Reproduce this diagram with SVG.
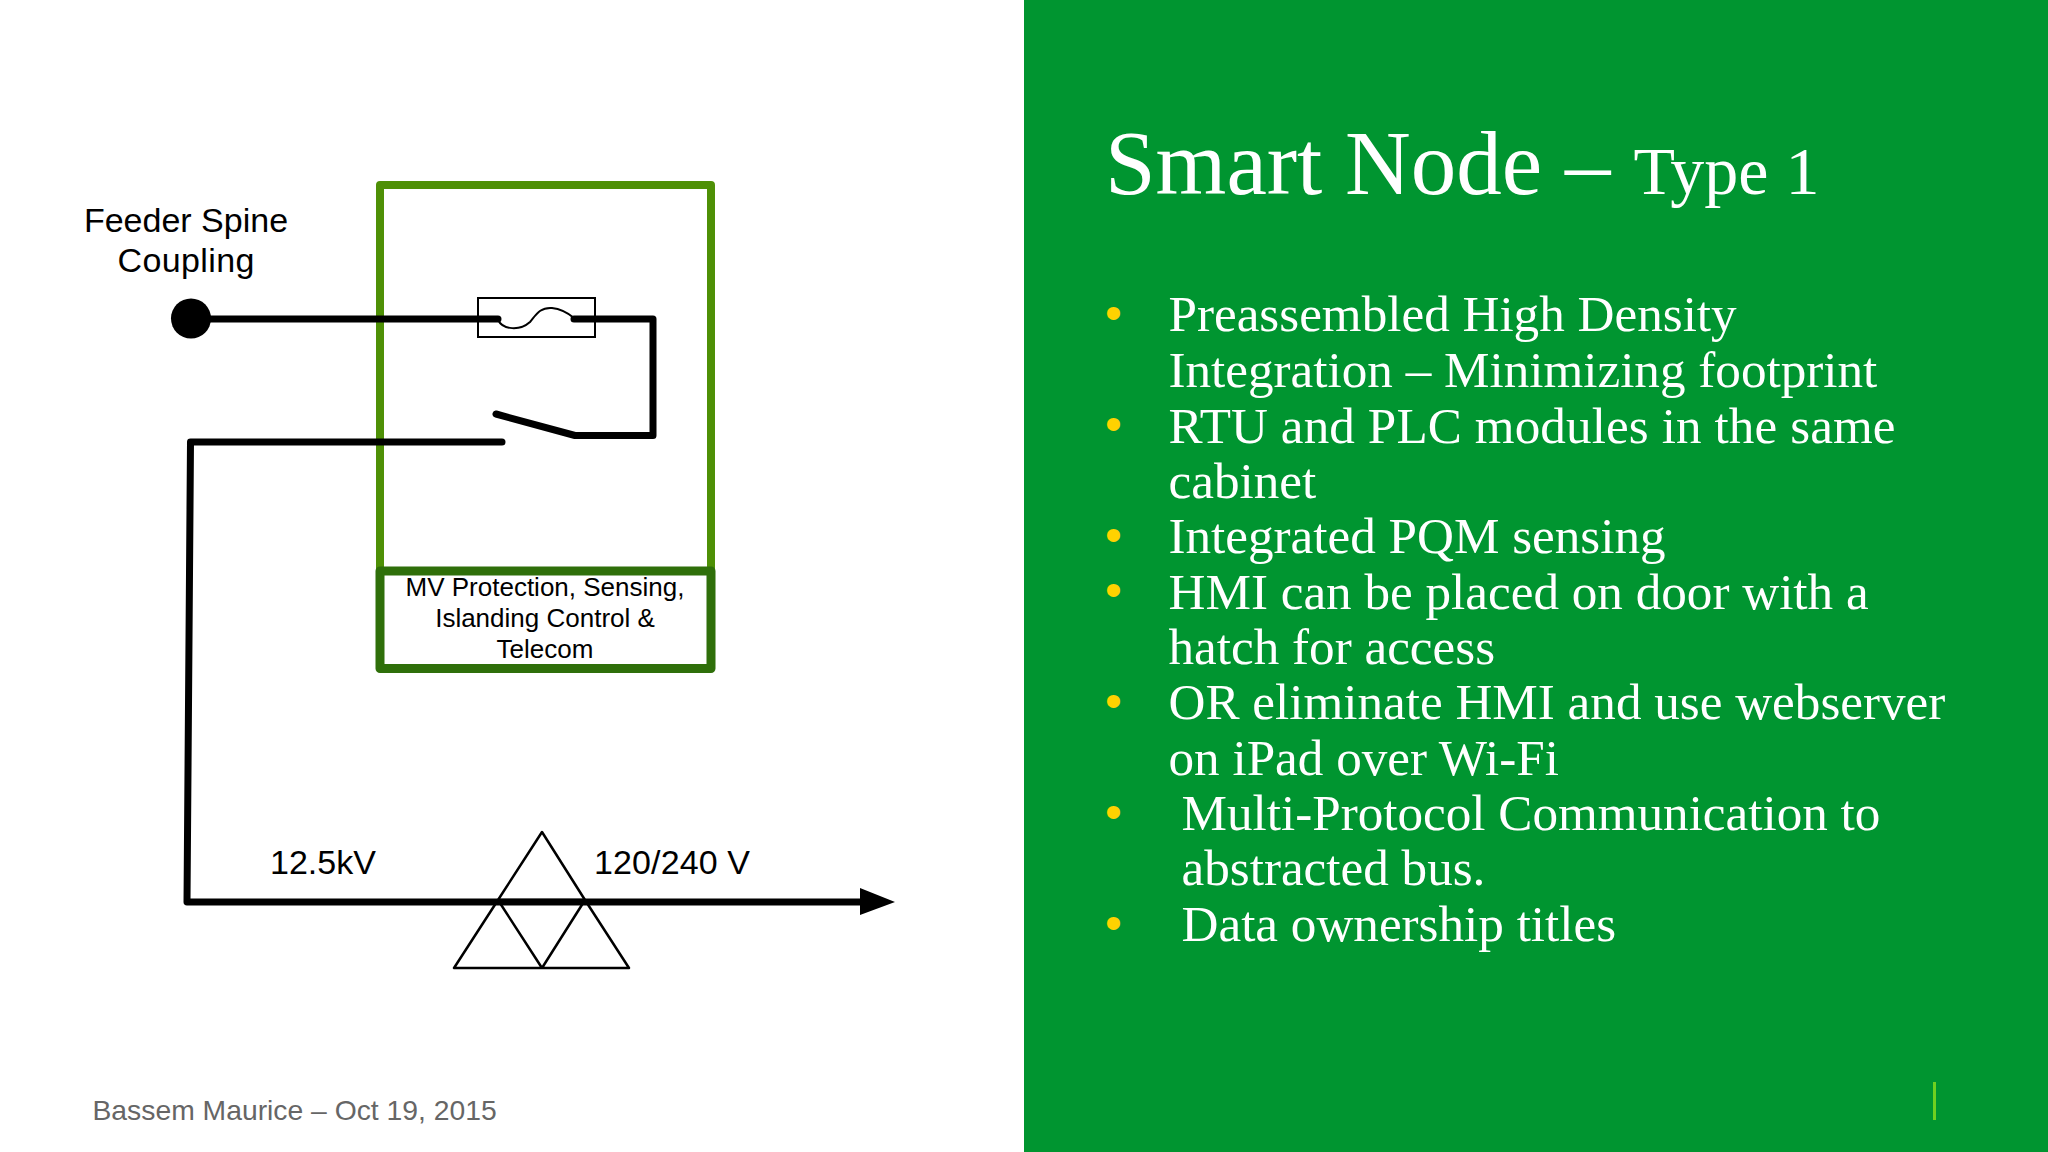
<svg xmlns="http://www.w3.org/2000/svg" width="2048" height="1152" viewBox="0 0 2048 1152">
<style>
.s{font-family:"Liberation Sans",Arial,sans-serif;fill:#000}
.c{text-anchor:middle}
.l{font-size:34px}
.m{font-size:26px}
.b{font-family:"Liberation Serif","Times New Roman",serif;fill:#fff;font-size:51.15px}
.d{font-family:"Liberation Sans",Arial,sans-serif;fill:#ffd200;font-size:48px}
.w{fill:none;stroke:#000;stroke-width:7;stroke-linecap:round;stroke-linejoin:round}
.t{fill:none;stroke:#000;stroke-width:2.5;stroke-linejoin:round}
</style>
<rect width="2048" height="1152" fill="#fff"/>
<g id="panel"><rect x="1024" width="1024" height="1152" fill="#009530"/><rect x="1933" y="1082" width="3" height="38" fill="#70d020"/></g>
<g id="cabinet"><rect x="380" y="185" width="331" height="386" fill="none" stroke="#4e9006" stroke-width="8" stroke-linejoin="round"/></g>
<g id="protection"><rect x="380" y="571" width="331" height="97.500" fill="none" stroke="#2f6f0a" stroke-width="9" stroke-linejoin="round"/>
<text class="s m c" x="545" y="596">MV Protection, Sensing,</text><text class="s m c" x="545" y="627">Islanding Control &amp;</text><text class="s m c" x="545" y="658">Telecom</text></g>
<g id="feeder"><circle cx="191" cy="318.500" r="20" fill="#000"/><text class="s l c" x="186" y="232">Feeder Spine</text><text class="s l c" x="186" y="272" textLength="137">Coupling</text></g>
<g id="fuse"><rect x="478" y="298" width="117" height="39" fill="none" stroke="#000" stroke-width="2"/><path d="M498 320C503 330 520 331 530 322C536 315 540 307 552 308C562 309 568 313 574 318" fill="none" stroke="#000" stroke-width="2"/></g>
<g id="transformer"><path class="t" d="M542 832L585 900H498ZM498 900L542 968L585 900M498 900L454 968H629L585 900"/><text class="s l" x="270" y="874">12.5kV</text><text class="s l" x="594" y="874" textLength="156">120/240 V</text></g>
<g id="connectors">
<path class="w" d="M200 319H498M574 319H653V435.500H575L496 414M502 442H190.500L187 902H862"/>
<polygon points="860,888 895,902 860,915" fill="#000"/>
</g>
<g id="footer"><text x="92.500" y="1119.500" font-family="Liberation Sans,Arial,sans-serif" font-size="28.300" fill="#666">Bassem Maurice – Oct 19, 2015</text></g>
<g id="content">
<text x="1105" y="193.500" class="b" style="font-size:91px">Smart Node –<tspan dx="23" style="font-size:68px">Type 1</tspan></text>
<text class="b" x="1168.500" y="331">Preassembled High Density</text>
<text class="b" x="1168.500" y="387">Integration – Minimizing footprint</text>
<text class="b" x="1168.500" y="442.500" textLength="727">RTU and PLC modules in the same</text>
<text class="b" x="1168.500" y="498">cabinet</text>
<text class="b" x="1168.500" y="553">Integrated PQM sensing</text>
<text class="b" x="1168.500" y="608.500">HMI can be placed on door with a</text>
<text class="b" x="1168.500" y="664">hatch for access</text>
<text class="b" x="1168.500" y="719">OR eliminate HMI and use webserver</text>
<text class="b" x="1168.500" y="775">on iPad over Wi-Fi</text>
<text class="b" x="1181.500" y="830">Multi-Protocol Communication to</text>
<text class="b" x="1181.500" y="885">abstracted bus.</text>
<text class="b" x="1181.500" y="941">Data ownership titles</text>
<text class="d" x="1105" y="329">•</text><text class="d" x="1105" y="440">•</text><text class="d" x="1105" y="551">•</text><text class="d" x="1105" y="606">•</text><text class="d" x="1105" y="717">•</text><text class="d" x="1105" y="828">•</text><text class="d" x="1105" y="939">•</text>
</g>
</svg>
